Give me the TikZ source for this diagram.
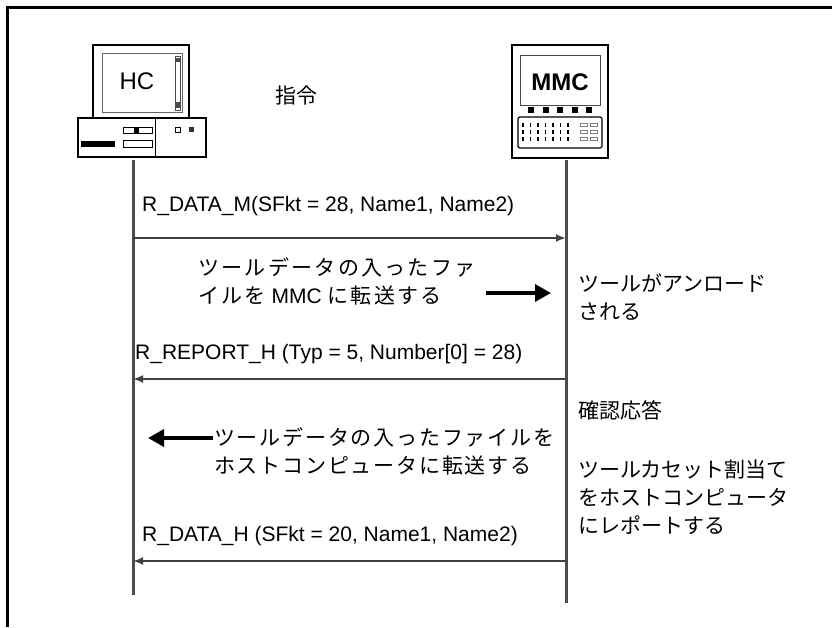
\documentclass[tikz,border=0pt]{standalone}
\usepackage{fontspec}
\setmainfont{Liberation Sans}
\newfontfamily\jp{Noto Sans CJK JP}
\newfontfamily\jpw[LetterSpace=11]{Noto Sans CJK JP}
\newfontfamily\jpm[LetterSpace=8.5]{Noto Sans CJK JP}
\usetikzlibrary{arrows.meta}

\begin{document}
\begin{tikzpicture}[x=1pt, y=-1pt,
  lifeline/.style={line width=3pt, black!70},
  msg/.style={-{Latex[length=10pt,width=8pt]}, line width=2.8pt, black!75},
  bigarrow/.style={-{Triangle[length=16pt,width=17pt]}, line width=3.5pt},
  txt/.style={font=\fontsize{21}{28}\selectfont, inner sep=0pt, align=left},
  icon/.style={line width=2.2pt}]

\useasboundingbox (0,0) rectangle (832,627);

% frame
\draw[line width=2.8pt] (832,7.5) -- (7.5,7.5) -- (7.5,627);

% host computer
\draw[icon] (93,45) rectangle (189,118);
\draw[line width=0.8pt, black!60] (102,53) rectangle (182,112);
\draw[line width=0.8pt, black!70] (175,56) rectangle (180,110);
\fill[black!70] (175,58) rectangle (180,62);
\fill[black!70] (175,102) rectangle (180,108);
\node[font=\fontsize{24}{24}\selectfont] (hc) at (137,81) {HC};
\draw[icon] (78,118) rectangle (206,157);
\draw[line width=1pt] (155,118) -- (155,157);
\fill (81,141) rectangle (115,147);
\draw[line width=0.8pt] (123,127) rectangle (152,133);
\fill (134,127) rectangle (139,133);
\draw[line width=0.8pt] (123,140) rectangle (152,147);
\draw[line width=0.8pt] (175,127) rectangle (180,132);
\fill[black!80] (189,127) rectangle (194,132);

% mmc terminal
\draw[icon] (512,45) rectangle (608,158);
\draw[line width=1pt, black!70] (520,55) rectangle (600,105);
\node[font=\bfseries\fontsize{24}{24}\selectfont] (mmc) at (560,82) {MMC};
\foreach \i in {0,...,4}
  \fill (528+14.5*\i,107) rectangle ++(6,6);
\draw[line width=1.2pt, rounded corners=2pt] (518,117) rectangle (602,148);
\foreach \r in {125,132,139}{
  \foreach \c in {0,...,6}
    \fill (522+7.5*\c,\r-2) rectangle ++(1.6,4);
  \draw[line width=0.6pt, black!50] (580,\r-1.5) rectangle ++(7,3);
  \draw[line width=0.6pt, black!50] (590,\r-1.5) rectangle ++(7,3);
}

\node[txt, font=\jp\fontsize{21}{28}\selectfont] (cmd) at (296,96) {指令};

% lifelines
\coordinate (hc top) at (133,160);
\coordinate (hc end) at (133,595);
\coordinate (mmc top) at (566,160);
\coordinate (mmc end) at (566,603);
\draw[lifeline] (hc top) -- (hc end);
\draw[lifeline] (mmc top) -- (mmc end);

% arrow rows
\coordinate (row1) at (0,238);
\coordinate (row2) at (0,379);
\coordinate (row3) at (0,561);

\node[txt, anchor=base west] (m1) at (142,211) {R\_DATA\_M(SFkt = 28, Name1, Name2)};
\draw[msg] (hc top |- row1) -- (mmc top |- row1);

\node[txt, anchor=west] (t1) at (198,281) {{\jpw ツールデータの入ったファ}\\{\jpw イルを} MMC {\jpw に転送する}};
\coordinate (f1) at (486,293);
\coordinate (f2) at (551,293);
\draw[bigarrow] (f1) -- (f2);
\node[txt, anchor=west] (n1) at (578,297) {\jp ツールがアンロード\\\jp される};

\node[txt, anchor=base west] (m2) at (135,359) {R\_REPORT\_H (Typ = 5, Number[0] = 28)};
\draw[msg] (mmc top |- row2) -- (hc top |- row2);

\node[txt, anchor=west] (n2) at (578,410) {\jp 確認応答};

\coordinate (b1) at (213,438);
\coordinate (b2) at (148,438);
\draw[bigarrow] (b1) -- (b2);
\node[txt, anchor=west] (t2) at (214,451) {\jpm ツールデータの入ったファイルを\\\jpm ホストコンピュータに転送する};
\node[txt, anchor=west] (n3) at (578,497) {\jp ツールカセット割当て\\\jp をホストコンピュータ\\\jp にレポートする};

\node[txt, anchor=base west] (m3) at (142,541) {R\_DATA\_H (SFkt = 20, Name1, Name2)};
\draw[msg] (mmc top |- row3) -- (hc top |- row3);

\end{tikzpicture}
\end{document}
